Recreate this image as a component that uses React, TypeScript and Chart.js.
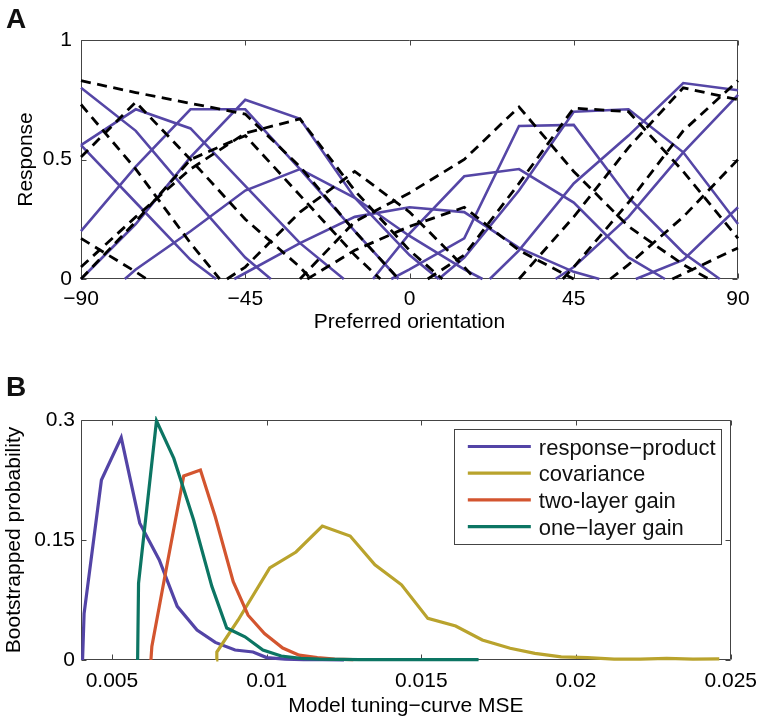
import React, { useEffect, useRef } from "react";
import { Chart, registerables } from "chart.js";

Chart.register(...registerables);

const FONT = "'Liberation Sans', Arial, Helvetica, sans-serif";
const MINUS = "\u2212";

// ---------------- Panel A data ----------------
const orientationTicks = [-90, -45, 0, 45, 90];
const responseTicks = [0, 0.5, 1];

// solid (purple) population responses: [preferred orientation, response]
const solid1 = [[-90, 0.80], [-75, 0.62], [-60, 0.35], [-45, 0.09], [-38, 0]];
const solid2 = [[-90, 0.56], [-75, 0.71], [-60, 0.63], [-45, 0.39], [-30, 0.15], [-18, 0]];
const solid3 = [[-90, 0.56], [-75, 0.32], [-60, 0.08], [-53, 0]];
const solid4 = [[-90, 0.20], [-75, 0.47], [-60, 0.71], [-45, 0.71], [-30, 0.46], [-15, 0.20], [-3, 0]];
const solid5 = [[-90, 0], [-75, 0.23], [-60, 0.51], [-45, 0.75], [-30, 0.67], [-15, 0.34], [0, 0.10], [8, 0]];
const solid6 = [[-78, 0], [-75, 0.04], [-60, 0.20], [-45, 0.37], [-30, 0.46], [-15, 0.34], [0, 0.18], [15, 0.04], [20, 0]];
const solid7 = [[-48, 0], [-30, 0.15], [-15, 0.26], [0, 0.30], [15, 0.28], [30, 0.13], [45, 0.03], [52, 0]];
const solid8 = [[-10, 0], [0, 0.19], [15, 0.43], [30, 0.46], [45, 0.32], [60, 0.09], [70, 0]];
const solid9 = [[-5, 0], [0, 0.04], [15, 0.17], [30, 0.64], [45, 0.645], [60, 0.34], [75, 0.11], [85, 0]];
const solid10 = [[8, 0], [15, 0.09], [30, 0.37], [45, 0.70], [60, 0.71], [75, 0.53], [90, 0.23]];
const solid11 = [[22, 0], [30, 0.12], [45, 0.40], [60, 0.60], [75, 0.82], [90, 0.79]];
const solid12 = [[40, 0], [45, 0.05], [60, 0.26], [75, 0.53], [90, 0.77]];
const solid13 = [[62, 0], [75, 0.08], [90, 0.30]];

// dashed (black) fits
const dashed1 = [[-90, 0.83], [-75, 0.78], [-60, 0.735], [-45, 0.69], [-30, 0.47], [-15, 0.20], [-3, 0]];
const dashed2 = [[-90, 0.05], [-75, 0.26], [-60, 0.46], [-45, 0.61], [-30, 0.67], [-15, 0.37], [0, 0.12], [9, 0]];
const dashed3 = [[-90, 0.73], [-75, 0.46], [-60, 0.15], [-52, 0]];
const dashed4 = [[-90, 0.51], [-75, 0.74], [-60, 0.50], [-45, 0.25], [-30, 0.05], [-27, 0]];
const dashed5 = [[-90, 0.17], [-75, 0.03], [-72, 0]];
const dashed6 = [[-90, 0], [-75, 0.24], [-60, 0.50], [-45, 0.60], [-30, 0.35], [-15, 0.10], [-8, 0]];
const dashed7 = [[-50, 0], [-45, 0.05], [-30, 0.28], [-15, 0.45], [0, 0.28], [15, 0.05], [18, 0]];
const dashed8 = [[-28, 0], [-15, 0.12], [0, 0.22], [15, 0.30], [30, 0.12], [45, 0]];
const dashed9 = [[-30, 0], [-15, 0.24], [0, 0.36], [15, 0.50], [30, 0.72], [45, 0.45], [60, 0.22], [75, 0.06], [82, 0]];
const dashed10 = [[5, 0], [15, 0.10], [30, 0.40], [45, 0.715], [60, 0.70], [75, 0.45], [90, 0.17]];
const dashed11 = [[30, 0], [45, 0.26], [60, 0.55], [75, 0.80], [90, 0.75]];
const dashed12 = [[42, 0], [45, 0.05], [60, 0.32], [75, 0.62], [90, 0.83]];
const dashed13 = [[55, 0], [60, 0.06], [75, 0.26], [90, 0.50]];
const dashed14 = [[72, 0], [90, 0.13]];

const solidCurves = [solid1, solid2, solid3, solid4, solid5, solid6, solid7, solid8, solid9, solid10, solid11, solid12, solid13];
const dashedCurves = [dashed1, dashed2, dashed3, dashed4, dashed5, dashed6, dashed7, dashed8, dashed9, dashed10, dashed11, dashed12, dashed13, dashed14];

// ---------------- Panel B data ----------------
const mseTicks = [0.005, 0.01, 0.015, 0.02, 0.025];
const mseTickLabels = ["0.005", "0.01", "0.015", "0.02", "0.025"];
const probTicks = [0, 0.15, 0.3];
const probTickLabels = ["0", "0.15", "0.3"];
const seriesNames = ["response" + MINUS + "product", "covariance", "two-layer gain", "one" + MINUS + "layer gain"];

const responseProduct = [[0.00405, 0], [0.0041, 0.058], [0.00466, 0.225], [0.0053, 0.278], [0.0059, 0.171], [0.00653, 0.125], [0.00711, 0.067], [0.00775, 0.0375], [0.00834, 0.022], [0.00898, 0.0125], [0.00956, 0.010], [0.0100, 0.003], [0.0106, 0.001], [0.0112, 0.0005], [0.0118, 0.0003], [0.0125, 0]];
const covariance = [[0.00837, 0], [0.00839, 0.010], [0.00908, 0.05], [0.0101, 0.115], [0.01095, 0.135], [0.0118, 0.1675], [0.0127, 0.155], [0.0135, 0.119], [0.01436, 0.094], [0.01521, 0.052], [0.01611, 0.0425], [0.01697, 0.025], [0.01787, 0.0146], [0.01867, 0.0083], [0.01952, 0.004], [0.02037, 0.003], [0.02123, 0.001], [0.02208, 0.001], [0.02293, 0.002], [0.02378, 0.001], [0.02463, 0.0015]];
const twoLayerGain = [[0.00626, 0], [0.00629, 0.017], [0.00679, 0.121], [0.00732, 0.23], [0.00786, 0.2375], [0.00834, 0.179], [0.00892, 0.098], [0.0094, 0.056], [0.00993, 0.033], [0.01052, 0.015], [0.01105, 0.006], [0.01164, 0.003], [0.0122, 0.001], [0.0128, 0.0005]];
const oneLayerGain = [[0.00583, 0], [0.00586, 0.096], [0.00644, 0.299], [0.0070, 0.252], [0.00764, 0.175], [0.00823, 0.092], [0.00871, 0.040], [0.0093, 0.029], [0.00988, 0.0125], [0.01047, 0.005], [0.0111, 0.002], [0.0117, 0.001], [0.0123, 0.0008], [0.013, 0.0005], [0.0137, 0.0005], [0.0145, 0.0005], [0.0153, 0.0005], [0.0161, 0.0005], [0.01685, 0.0005]];

const bSeries = [responseProduct, covariance, twoLayerGain, oneLayerGain];
const bColors = ["#5344a6", "#b9a32d", "#d3552f", "#0c7563"];

const PURPLE = "#5546a6";
const AXIS_COLOR = "#444444";

const toXY = (arr: number[][]) => arr.map(([x, y]) => ({ x, y }));
const fmtSigned = (v: number) => (v < 0 ? MINUS + Math.abs(v) : String(v));

// Box with inward ticks on all four sides (MATLAB style)
const boxPlugin = {
  id: "matlabBox",
  beforeDatasetsDraw(chart: any) {
    const { ctx, chartArea, scales } = chart;
    const L = Math.round(chartArea.left) + 0.5;
    const R = Math.round(chartArea.right) - 0.5;
    const T = Math.round(chartArea.top) + 0.5;
    const B = Math.round(chartArea.bottom) - 0.5;
    ctx.save();
    ctx.strokeStyle = AXIS_COLOR;
    ctx.lineWidth = 1;
    ctx.beginPath();
    ctx.rect(L, T, R - L, B - T);
    const tl = 5;
    scales.x.ticks.forEach((t: any) => {
      const px = Math.round(scales.x.getPixelForValue(t.value)) + 0.5;
      ctx.moveTo(px, B); ctx.lineTo(px, B - tl);
      ctx.moveTo(px, T); ctx.lineTo(px, T + tl);
    });
    scales.y.ticks.forEach((t: any) => {
      const py = Math.round(scales.y.getPixelForValue(t.value)) + 0.5;
      ctx.moveTo(L, py); ctx.lineTo(L + tl, py);
      ctx.moveTo(R, py); ctx.lineTo(R - tl, py);
    });
    ctx.stroke();
    ctx.restore();
  },
};

// Boxed legend in the upper right of panel B
const legendPlugin = {
  id: "boxedLegend",
  afterDatasetsDraw(chart: any) {
    const { ctx, scales } = chart;
    const x0 = scales.x.getPixelForValue(0.01605);
    const x1 = chart.chartArea.right - 10;
    const y0 = chart.chartArea.top + 9;
    const rowH = 26.7;
    const n = chart.data.datasets.length;
    const y1 = y0 + rowH * n + 8;
    ctx.save();
    ctx.fillStyle = "#ffffff";
    ctx.fillRect(x0, y0, x1 - x0, y1 - y0);
    ctx.strokeStyle = AXIS_COLOR;
    ctx.lineWidth = 1;
    ctx.strokeRect(Math.round(x0) + 0.5, Math.round(y0) + 0.5, Math.round(x1 - x0), Math.round(y1 - y0));
    ctx.font = `22px ${FONT}`;
    ctx.textBaseline = "middle";
    ctx.textAlign = "left";
    chart.data.datasets.forEach((ds: any, i: number) => {
      const y = y0 + 17.5 + i * rowH;
      ctx.strokeStyle = ds.borderColor;
      ctx.lineWidth = 3.2;
      ctx.beginPath();
      ctx.moveTo(x0 + 14, y);
      ctx.lineTo(x0 + 77, y);
      ctx.stroke();
      ctx.fillStyle = "#111111";
      ctx.fillText(ds.label, x0 + 85, y + 2);
    });
    ctx.restore();
  },
};

const font21 = { family: FONT, size: 21 };

function PanelA() {
  const ref = useRef<HTMLCanvasElement>(null);
  useEffect(() => {
    const datasets: any[] = [];
    solidCurves.forEach((c, i) =>
      datasets.push({
        label: "solid" + (i + 1),
        data: toXY(c),
        borderColor: PURPLE,
        borderWidth: 2.6,
        pointRadius: 0,
        tension: 0,
        fill: false,
        order: 1,
        clip: 4,
      })
    );
    dashedCurves.forEach((c, i) =>
      datasets.push({
        label: "dashed" + (i + 1),
        data: toXY(c),
        borderColor: "#000000",
        borderWidth: 2.8,
        borderDash: [10, 6.5],
        pointRadius: 0,
        tension: 0,
        fill: false,
        order: 0,
        clip: 4,
      })
    );
    const chart = new Chart(ref.current!, {
      type: "line",
      data: { datasets },
      options: {
        animation: false,
        responsive: false,
        maintainAspectRatio: false,
        events: [],
        layout: { padding: { top: 40, right: 28, bottom: 0, left: 0 } },
        plugins: { legend: { display: false }, tooltip: { enabled: false } },
        scales: {
          x: {
            type: "linear",
            min: -90,
            max: 90,
            afterBuildTicks: (s: any) => { s.ticks = orientationTicks.map((v) => ({ value: v })); },
            afterFit: (s: any) => { s.height = 79; },
            grid: { display: false, drawTicks: false },
            border: { display: false },
            ticks: { padding: 8, color: "#000", font: font21, maxRotation: 0, autoSkip: false, callback: (v: any) => fmtSigned(Number(v)) },
            title: { display: true, text: "Preferred orientation", color: "#000", font: font21, padding: { top: 0, bottom: 23 } },
          },
          y: {
            type: "linear",
            min: 0,
            max: 1,
            afterBuildTicks: (s: any) => { s.ticks = responseTicks.map((v) => ({ value: v })); },
            afterFit: (s: any) => { s.width = 81; },
            grid: { display: false, drawTicks: false },
            border: { display: false },
            ticks: { padding: 9, color: "#000", font: font21, callback: (v: any) => String(v) },
            title: { display: true, text: "Response", color: "#000", font: font21, padding: { top: 14, bottom: 0 } },
          },
        },
      },
      plugins: [boxPlugin],
    } as any);
    return () => chart.destroy();
  }, []);
  return <canvas ref={ref} width={766} height={358} style={{ position: "absolute", left: 0, top: 0, width: 766, height: 358 }} />;
}

function PanelB() {
  const ref = useRef<HTMLCanvasElement>(null);
  useEffect(() => {
    const datasets = bSeries.map((s, i) => ({
      label: seriesNames[i],
      data: toXY(s),
      borderColor: bColors[i],
      borderWidth: 3.2,
      pointRadius: 0,
      tension: 0,
      fill: false,
      order: -i,
      clip: 4,
    }));
    const chart = new Chart(ref.current!, {
      type: "line",
      data: { datasets },
      options: {
        animation: false,
        responsive: false,
        maintainAspectRatio: false,
        events: [],
        layout: { padding: { top: 62, right: 28, bottom: 0, left: 0 } },
        plugins: { legend: { display: false }, tooltip: { enabled: false } },
        scales: {
          x: {
            type: "linear",
            min: 0.004,
            max: 0.025,
            afterBuildTicks: (s: any) => { s.ticks = mseTicks.map((v) => ({ value: v })); },
            afterFit: (s: any) => { s.height = 60; },
            grid: { display: false, drawTicks: false },
            border: { display: false },
            ticks: {
              padding: 9, color: "#000", font: font21, maxRotation: 0, autoSkip: false,
              callback: (v: any) => { const i = mseTicks.findIndex((t) => Math.abs(t - Number(v)) < 1e-9); return i >= 0 ? mseTickLabels[i] : ""; },
            },
            title: { display: true, text: "Model tuning" + MINUS + "curve MSE", color: "#000", font: font21, padding: { top: 0, bottom: 1 } },
          },
          y: {
            type: "linear",
            min: 0,
            max: 0.3,
            afterBuildTicks: (s: any) => { s.ticks = probTicks.map((v) => ({ value: v })); },
            afterFit: (s: any) => { s.width = 81; },
            grid: { display: false, drawTicks: false },
            border: { display: false },
            ticks: {
              padding: 6, color: "#000", font: font21,
              callback: (v: any) => { const i = probTicks.findIndex((t) => Math.abs(t - Number(v)) < 1e-9); return i >= 0 ? probTickLabels[i] : ""; },
            },
            title: { display: true, text: "Bootstrapped probability", color: "#000", font: font21, padding: { top: 2, bottom: 0 } },
          },
        },
      },
      plugins: [boxPlugin, legendPlugin],
    } as any);
    return () => chart.destroy();
  }, []);
  return <canvas ref={ref} width={766} height={362} style={{ position: "absolute", left: 0, top: 358, width: 766, height: 362 }} />;
}

export default function App() {
  const letter: React.CSSProperties = {
    position: "absolute",
    left: 6,
    fontFamily: FONT,
    fontWeight: "bold",
    fontSize: 28,
    lineHeight: "28px",
    color: "#111",
    margin: 0,
  };
  return (
    <div style={{ position: "absolute", left: 0, top: 0, width: 766, height: 716, overflow: "hidden", background: "#fff" }}>
      <PanelA />
      <PanelB />
      <div style={{ ...letter, top: 5 }}>A</div>
      <div style={{ ...letter, top: 373 }}>B</div>
    </div>
  );
}
